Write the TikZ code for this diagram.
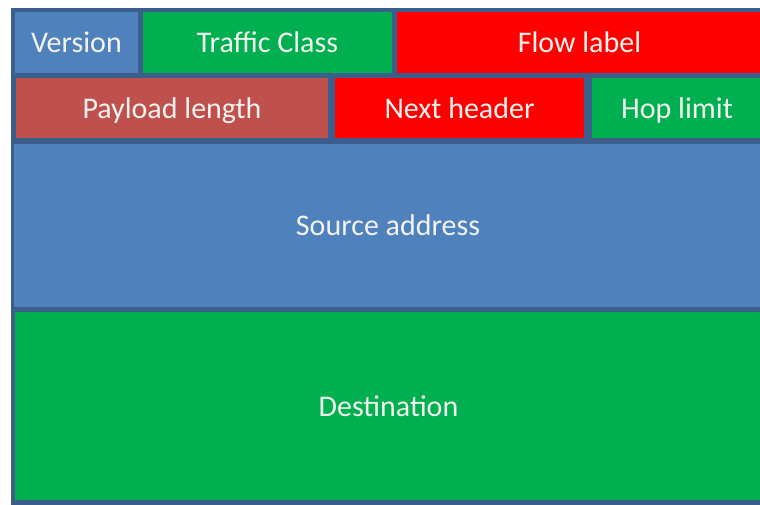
\documentclass[tikz,border=0pt]{standalone}
\usepackage{fontspec}
\setmainfont{Carlito}
\definecolor{frameblue}{HTML}{3C5E8D}
\definecolor{fieldblue}{HTML}{4F81BD}
\definecolor{fieldgreen}{HTML}{00B050}
\definecolor{fieldred}{HTML}{FF0000}
\definecolor{fieldrose}{HTML}{C0504D}
\definecolor{labeltext}{HTML}{F2F2EE}
\tikzset{
  field/.style={anchor=north west, inner sep=0pt, outer sep=0pt},
  fieldlabel/.style={text=labeltext, inner sep=0pt, anchor=base,
    font=\fontsize{30}{34}\selectfont},
}
% field box: name, fill colour, x0, y0, x1, y1 (pixel-like units, y downwards), label
\newcommand{\ipfield}[7]{%
  \node[field, fill=#2, minimum width=#5pt-#3pt, minimum height=#6pt-#4pt]
    (#1) at (#3pt,-#4pt) {};
  \node[fieldlabel] (#1-label) at ([yshift=-10pt]#1.center) {#7};}
\begin{document}
\begin{tikzpicture}[x=1pt,y=1pt]
  \useasboundingbox (0,0) rectangle (760,-504);
  \fill[white] (0,0) rectangle (760,-504);
  % outer frame of the header
  \fill[frameblue] (11,-8) rectangle (762,-506);
  % first row
  \ipfield{version}{fieldblue}{15}{12}{138}{73}{Version}
  \ipfield{traffic}{fieldgreen}{143}{12}{392}{73}{Traffic Class}
  \ipfield{flow}{fieldred}{397}{12}{762}{73}{Flow label}
  % second row
  \ipfield{payload}{fieldrose}{16}{78}{328}{138}{Payload length}
  \ipfield{next}{fieldred}{335}{78}{584}{138}{Next header}
  \ipfield{hop}{fieldgreen}{592}{78}{762}{138}{Hop limit}
  % addresses
  \ipfield{src}{fieldblue}{14}{144}{762}{307}{Source address}
  \ipfield{dst}{fieldgreen}{15}{312}{762}{500}{Destination}
\end{tikzpicture}
\end{document}
